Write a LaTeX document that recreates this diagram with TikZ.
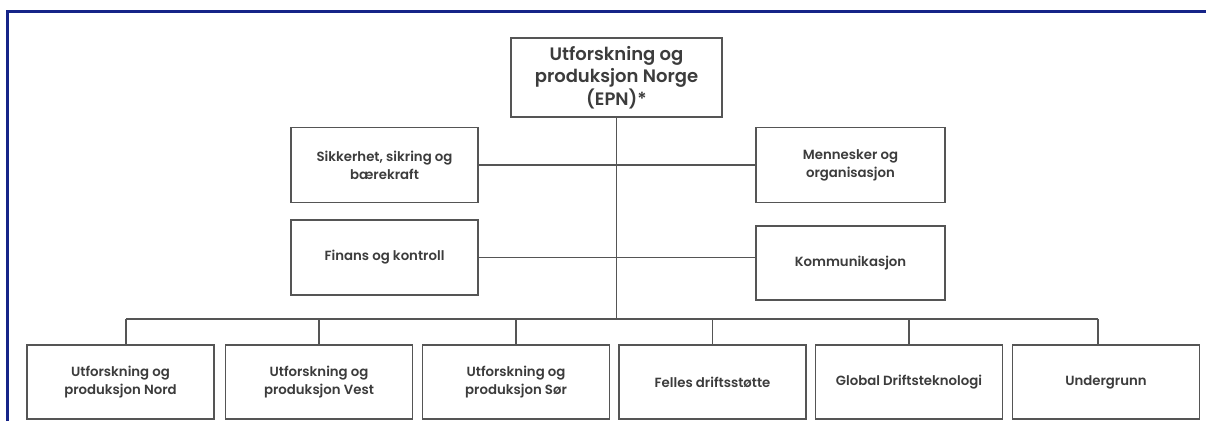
\documentclass[tikz,border=0pt]{standalone}
\usepackage{fontspec}
\setmainfont{Poppins}[UprightFont={* SemiBold}]
\definecolor{frameblue}{RGB}{22,36,136}
\definecolor{boxline}{RGB}{85,85,85}
\definecolor{boxtext}{RGB}{60,60,60}
\begin{document}
\begin{tikzpicture}[x=1pt,y=-1pt,
  unit/.style={draw=boxline, line width=1.6pt, fill=white, text=boxtext,
    align=center, inner sep=0pt, minimum width=187pt, minimum height=75pt,
    font=\fontsize{13.3}{18}\selectfont},
  headunit/.style={unit, minimum width=211pt, minimum height=79pt,
    font=\fontsize{18}{22.5}\selectfont},
  link/.style={draw=boxline, line width=1.4pt}]
  \useasboundingbox (0,0) rectangle (1206,421);
  \fill[white] (0,0) rectangle (1206,421);
  % outer frame (top and left edges)
  \draw[frameblue, line width=2.6pt] (7.5,421) -- (7.5,11.5) -- (1206,11.5);

  % top of the hierarchy
  \node[headunit] (epn) at (616.5,77.5) {Utforskning og\\produksjon Norge\\(EPN)*};

  % staff units
  \node[unit] (ssb) at (384.5,165) {Sikkerhet, sikring og\\bærekraft};
  \node[unit, minimum width=189pt] (mo) at (850.5,165) {Mennesker og\\organisasjon};
  \node[unit] (fk) at (384.5,257.5) {Finans og kontroll};
  \node[unit, minimum width=189pt, minimum height=74pt] (kom) at (850.5,263) {Kommunikasjon};

  % business areas
  \begin{scope}[every node/.style={unit, minimum height=74pt}]
    \node (nord) at (120.5,382) {Utforskning og\\produksjon Nord};
    \node (vest) at (319,382) {Utforskning og\\produksjon Vest};
    \node (sor) at (516,382) {Utforskning og\\produksjon Sør};
    \node (fds) at (712.5,382) {Felles driftsstøtte};
    \node (gdt) at (909,382) {Global Driftsteknologi};
    \node (ug) at (1106,382) {Undergrunn};
  \end{scope}

  \coordinate (bus) at (616.5,319);
  % the outer drops sit a little off the box centres
  \coordinate (dnord) at ([xshift=5.5pt]nord.north);
  \coordinate (dug) at ([xshift=-8pt]ug.north);

  % trunk and staff connections
  \draw[link] (epn.south) -- (bus);
  \draw[link] (ssb.east) -- (mo.west);
  \draw[link] (fk.east) -- (fk.east -| kom.west);

  % distribution bar and drops
  \draw[link] (dnord |- bus) -- (dug |- bus);
  \foreach \b in {dnord,vest.north,sor.north,fds.north,gdt.north,dug}
    \draw[link] (\b) -- (\b |- bus);
\end{tikzpicture}
\end{document}
